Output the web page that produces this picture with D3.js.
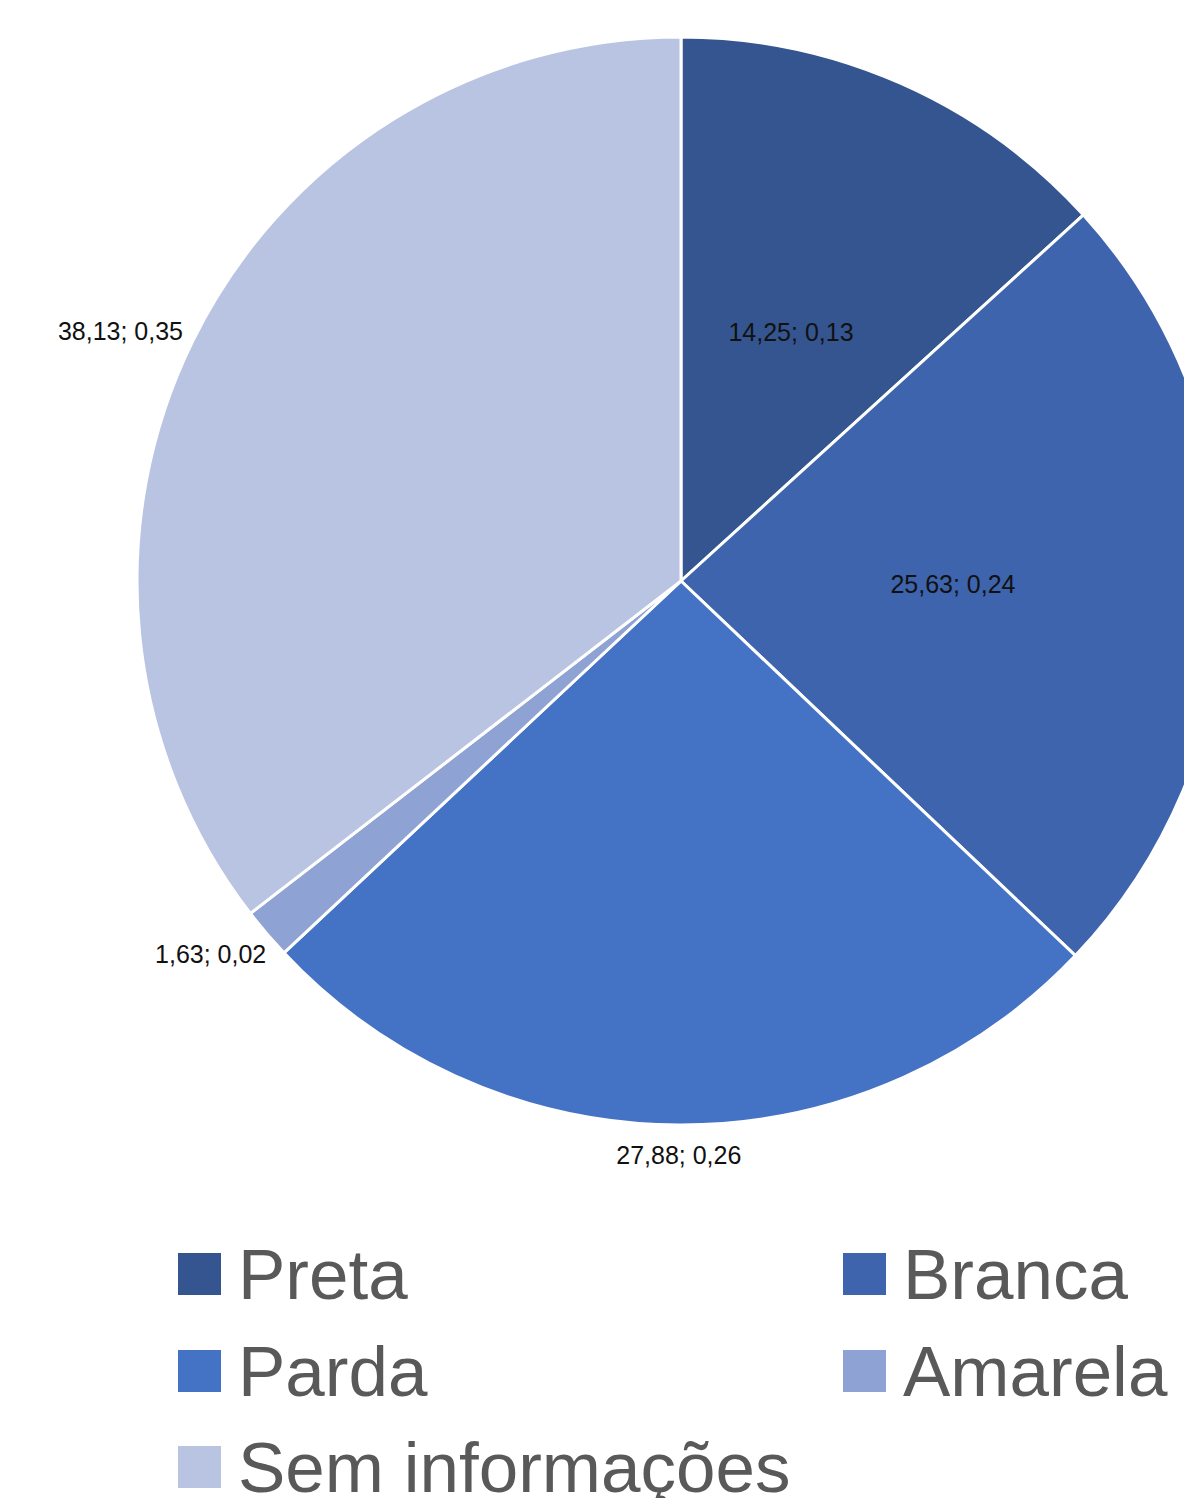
<!DOCTYPE html>
<html>
<head>
<meta charset="utf-8">
<script src="https://cdn.jsdelivr.net/npm/d3@7"></script>
<style>
  html, body { margin: 0; padding: 0; background: #fff; overflow: hidden; }
  svg { display: block; font-family: "Liberation Sans", Arial, sans-serif; }
</style>
</head>
<body>
<svg id="chart" width="1184" height="1498"></svg>
<script>
// Distribuição por raça/cor
const categories = ["Preta", "Branca", "Parda", "Amarela", "Sem informações"];
const values = [14.25, 25.63, 27.88, 1.63, 38.13];
const shares = [0.13, 0.24, 0.26, 0.02, 0.35];
const colors = ["#34558f", "#3d64ad", "#4472c4", "#8fa2d4", "#b9c3e2"];
// Rótulo dentro da fatia ou fora dela
const labelInside = [true, true, false, false, false];

const fmt = v => d3.format(".2f")(v).replace(".", ",");

const svg = d3.select("#chart");
const cx = 681, cy = 581, R = 544;

const pie = d3.pie().sort(null).value(d => d.value);
const data = categories.map((c, i) => ({ name: c, value: values[i], share: shares[i], color: colors[i], inside: labelInside[i] }));
const arcs = pie(data);

const arc = d3.arc().innerRadius(0).outerRadius(R);

const g = svg.append("g").attr("transform", `translate(${cx},${cy})`);

g.selectAll("path.slice")
  .data(arcs)
  .join("path")
  .attr("class", "slice")
  .attr("d", arc)
  .attr("fill", d => d.data.color)
  .attr("stroke", "#ffffff")
  .attr("stroke-width", 3)
  .attr("stroke-linejoin", "round");

// Rótulos de dados
const labelSize = 25;
const lbl = g.selectAll("text.lbl")
  .data(arcs)
  .join("text")
  .attr("class", "lbl")
  .attr("font-size", labelSize)
  .attr("fill", "#111")
  .attr("text-anchor", "middle")
  .attr("dy", "0.36em")
  .text(d => `${fmt(d.data.value)}; ${fmt(d.data.share)}`);

lbl.each(function(d) {
  const a = (d.startAngle + d.endAngle) / 2;
  const s = Math.sin(a), c = Math.cos(a);
  let x, y;
  if (d.data.inside) {
    const r = R * 0.5;
    x = r * s; y = -r * c;
  } else {
    const w = this.getComputedTextLength();
    const h = labelSize * 0.8;
    const r = R + 18;
    x = r * s + (w / 2) * s;
    y = -r * c - (h / 2) * c + 2;
  }
  d3.select(this).attr("x", x).attr("y", y);
});

// Legenda
const legendFont = 71;
const legendRows = [1274, 1371, 1467];
const legendCols = [178, 843];
const legend = svg.append("g");
data.forEach((d, i) => {
  const col = i % 2, row = Math.floor(i / 2);
  const x = legendCols[col], y = legendRows[row];
  legend.append("rect")
    .attr("x", x).attr("y", y - 21)
    .attr("width", 43).attr("height", 42)
    .attr("fill", d.color);
  legend.append("text")
    .attr("x", x + 60).attr("y", y)
    .attr("dy", "0.35em")
    .attr("font-size", legendFont)
    .attr("fill", "#595959")
    .text(d.name);
});
</script>
</body>
</html>
